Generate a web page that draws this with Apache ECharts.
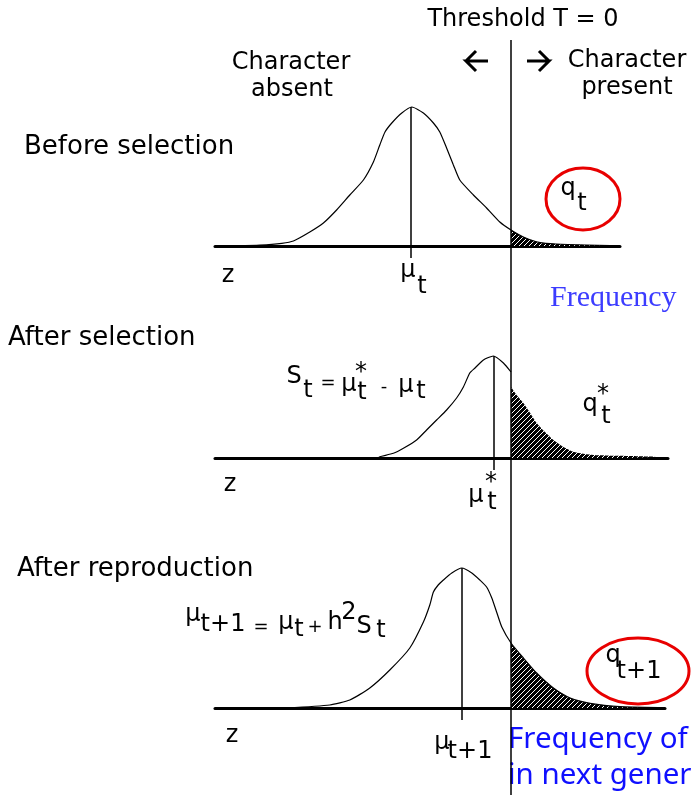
<!DOCTYPE html>
<html>
<head>
<meta charset="utf-8">
<script src="https://cdn.jsdelivr.net/npm/echarts@6/dist/echarts.min.js"></script>
<style>
html, body { margin: 0; padding: 0; background: #fff; }
#main { width: 691px; height: 795px; }
</style>
</head>
<body>
<div id="main"></div>
<script>
// liability z (threshold T = 0) and curve height above the baseline
var threshold = 0;

var beforeZ = [-6.85, -6.28, -5.73, -5.44, -5.03, -4.69, -4.36, -4.03, -3.69, -3.44, -3.28, -3.15, -2.98, -2.73, -2.48,
    -2.19, -1.94, -1.78, -1.61, -1.44, -1.28, -0.94, -0.61, -0.28, 0, 0.31, 0.73, 1.14, 1.89, 2.48];
var beforeH = [0, 0.8, 2.7, 5, 14, 23, 36, 51, 66, 84, 101, 114, 123, 133, 139,
    133, 123, 114, 98, 81, 66, 51, 38, 24, 16, 9, 3.3, 2, 1, 0.5];

var selectedZ = [-3.33, -3.28, -2.94, -2.69, -2.36, -2.11, -1.86, -1.61, -1.36, -1.19, -1.03, -0.9, -0.69, -0.44, -0.19, 0];
var selectedH = [0, 1.3, 4.7, 9.7, 18, 28, 38, 48, 60, 71, 85, 90, 98, 102, 95, 86];
var selectedTailZ = [0, 0.14, 0.31, 0.48, 0.64, 0.85, 1.06, 1.31, 1.56, 2.06, 2.98, 3.64];
var selectedTailH = [71, 63, 55, 45, 35, 26, 18, 11, 6.3, 3, 2, 1.3];

var offspringZ = [-5.61, -4.53, -4.03, -3.53, -3.03, -2.53, -2.19, -2.03, -1.94, -1.82, -1.69, -1.48, -1.23,
    -0.98, -0.78, -0.61, -0.48, -0.36, -0.23, 0, 0.31, 0.64, 1.06, 1.48, 1.98, 2.73, 3.68];
var offspringH = [0, 3, 8, 20, 38, 60, 86, 103, 116, 123, 128, 135, 140,
    135, 128, 121, 110, 96, 81, 65, 50, 35, 20, 10, 4.7, 1.3, 0.3];

var meanZ = [-2.5, -0.44, -1.23];
var axisMax = [2.725, 3.925, 3.85];

function pairs(zs, hs) {
    return zs.map(function (z, i) { return [z, hs[i]]; });
}
function tailOf(zs, hs) {
    return pairs(zs, hs).filter(function (p) { return p[0] >= threshold; });
}

var curves = [pairs(beforeZ, beforeH), pairs(selectedZ, selectedH), pairs(offspringZ, offspringH)];
var tails = [tailOf(beforeZ, beforeH), pairs(selectedTailZ, selectedTailH), tailOf(offspringZ, offspringH)];

// hatch fill for the tail above the threshold
var hatch = document.createElement('canvas');
hatch.width = 5;
hatch.height = 5;
var g = hatch.getContext('2d');
g.fillStyle = '#000';
g.fillRect(0, 0, 5, 5);
g.strokeStyle = '#fff';
g.lineWidth = 1;
g.beginPath();
g.moveTo(0, 5); g.lineTo(5, 0);
g.moveTo(-1, 1); g.lineTo(1, -1);
g.moveTo(4, 6); g.lineTo(6, 4);
g.stroke();

var FONT = 'DejaVu Sans';
function txt(s, x, y, extra) {
    var st = {
        text: s, fontSize: 24, fontFamily: FONT, fill: '#000',
        align: 'center', verticalAlign: 'middle',
        textAlign: 'center', textVerticalAlign: 'middle'
    };
    for (var k in extra) st[k] = extra[k];
    if (extra && extra.align) st.textAlign = extra.align;
    return { type: 'text', x: x, y: y, silent: true, style: st };
}
function left(s, x, y, extra) {
    var e = extra || { fontSize: 26 };
    e.align = 'left';
    return txt(s, x, y, e);
}
function sm(s, x, y) {
    return txt(s, x, y, { fontSize: 18 });
}
function arrow(x0, x1, y) {
    var d = x1 > x0 ? -10 : 10;
    return {
        type: 'polyline', silent: true,
        shape: { points: [[x1 + d, y - 10], [x1, y], [x1 + d, y + 10], [x1, y], [x0, y]] },
        style: { stroke: '#000', lineWidth: 3, fill: null, lineJoin: 'miter' }
    };
}

var grids = [
    { left: 215, top: 96, width: 405, height: 165 },
    { left: 215, top: 308, width: 453, height: 165 },
    { left: 215, top: 558, width: 450, height: 165 },
    { left: 215, top: 40, width: 455, height: 755 }
];

var xAxes = [], yAxes = [], series = [];
for (var i = 0; i < 4; i++) {
    xAxes.push({
        type: 'value', gridIndex: i, min: -7.4, max: i < 3 ? axisMax[i] : 3.975,
        axisLine: { show: i < 3, onZero: true, lineStyle: { color: '#000', width: 3 } },
        axisTick: { show: false }, axisLabel: { show: false }, splitLine: { show: false }
    });
    yAxes.push({
        type: 'value', gridIndex: i, min: i < 3 ? -15 : 0, max: i < 3 ? 150 : 1, show: false
    });
}

for (var p = 0; p < 3; p++) {
    var peak = Math.max.apply(null, curves[p].map(function (d) { return d[1]; }));
    series.push({
        type: 'line', xAxisIndex: p, yAxisIndex: p, data: tails[p],
        symbol: 'none', smooth: 0.2, silent: true, z: 1,
        lineStyle: { width: 0 },
        areaStyle: { color: { image: hatch, repeat: 'repeat' }, opacity: 1 }
    });
    series.push({
        type: 'line', xAxisIndex: p, yAxisIndex: p, data: curves[p],
        symbol: 'none', smooth: 0.2, silent: true, z: 2,
        lineStyle: { color: '#000', width: 1.2 },
        markLine: {
            symbol: 'none', silent: true, label: { show: false },
            lineStyle: { color: '#000', width: 1.5, type: 'solid' },
            data: [[{ coord: [meanZ[p], -12] }, { coord: [meanZ[p], peak] }]]
        }
    });
}
// threshold line through all three panels
series.push({
    type: 'line', xAxisIndex: 3, yAxisIndex: 3,
    data: [[threshold, 0], [threshold, 1]],
    symbol: 'none', silent: true, z: 3,
    lineStyle: { color: '#000', width: 1.5 }
});

var red = '#e80000';
var blue = { fontFamily: 'Noto Sans', fontSize: 29.5, fill: '#1010ff' };
var graphics = [
    txt('Threshold T = 0', 523, 20),
    arrow(488, 466, 61),
    arrow(527, 549, 61),
    txt('Character', 627, 61),
    txt('present', 627, 88),
    txt('Character', 291, 63),
    txt('absent', 292, 90),

    left('Before selection', 24, 147),
    txt('z', 228, 276),
    txt('\u03bc', 408, 271), txt('t', 422, 287),
    { type: 'ellipse', shape: { cx: 583, cy: 199, rx: 37, ry: 31 }, style: { fill: 'none', stroke: red, lineWidth: 3 } },
    txt('q', 568, 189), txt('t', 582, 204),
    left('Frequency', 550, 298, { fontFamily: 'Liberation Serif', fontSize: 30, fill: '#3c3cff' }),

    left('After selection', 8, 338),
    txt('S', 294, 377), txt('t', 308, 391), sm('=', 328, 383),
    txt('\u03bc', 349, 385), txt('*', 361, 373), txt('t', 362, 393),
    sm('-', 384, 387), txt('\u03bc', 406, 386), txt('t', 421, 392),
    txt('q', 590, 405), txt('*', 603, 395), txt('t', 606, 417),
    txt('z', 230, 485),
    txt('\u03bc', 476, 496), txt('*', 491, 483), txt('t', 492, 503),

    left('After reproduction', 17, 569),
    txt('\u03bc', 193, 615), txt('t+1', 223, 625), sm('=', 261, 627),
    txt('\u03bc', 286, 623), txt('t', 299, 630), sm('+', 315, 627),
    txt('h', 335, 623), txt('2', 349, 613), txt('S', 364, 627), txt('t', 381, 631),
    { type: 'ellipse', shape: { cx: 638, cy: 671, rx: 51, ry: 33 }, style: { fill: 'none', stroke: red, lineWidth: 3 } },
    txt('q', 613, 656), txt('t+1', 639, 672),
    txt('z', 232, 736),
    txt('\u03bc', 442, 743), txt('t+1', 470, 752),
    left('Frequency of', 508, 740, blue),
    left('in next generation', 508, 776, blue)
];

var myChart = echarts.init(document.getElementById('main'));
option = {
    animation: false,
    backgroundColor: '#fff',
    grid: grids,
    xAxis: xAxes,
    yAxis: yAxes,
    series: series,
    graphic: graphics
};
myChart.setOption(option);
</script>
</body>
</html>
